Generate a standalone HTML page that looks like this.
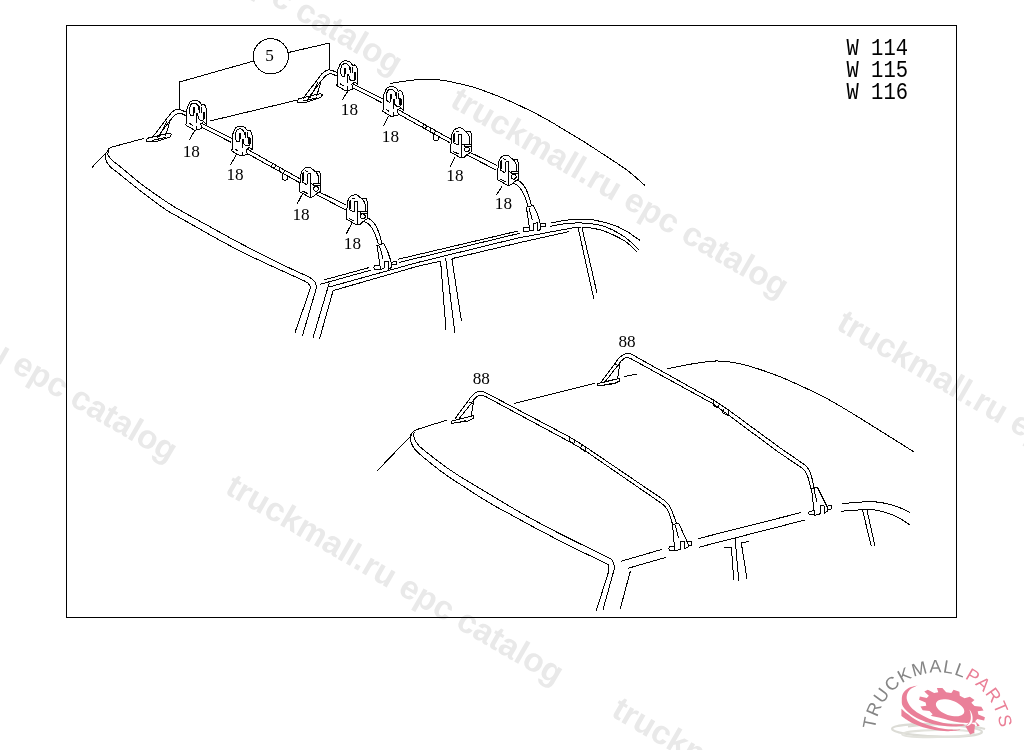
<!DOCTYPE html>
<html><head><meta charset="utf-8"><title>W 114 / W 115 / W 116 roof carrier</title>
<style>
html,body{margin:0;padding:0;background:#fff;}
body{width:1024px;height:750px;overflow:hidden;position:relative;font-family:"Liberation Sans",sans-serif;}
svg{position:absolute;left:0;top:0;display:block;will-change:transform;}
.wm text{font-family:"Liberation Sans",sans-serif;font-weight:bold;font-size:33.36px;fill:#e9e9e9;}
.dr{fill:none;stroke:#000;stroke-width:1;stroke-linecap:butt;stroke-linejoin:round;}
.n{font-family:"Liberation Serif",serif;font-size:17.2px;fill:#000;stroke:none;text-anchor:middle;}
.w{font-family:"Liberation Mono",monospace;font-size:20.5px;fill:#000;stroke:none;}
</style></head>
<body>
<svg width="1024" height="750" viewBox="0 0 1024 750">
<rect x="0" y="0" width="1024" height="750" fill="#fff"/>
<g class="wm">
<text x="62.5" y="-117.5" transform="rotate(30.2 62.5 -117.5)">truckmall.ru epc catalog</text>
<text x="448.7" y="105.4" transform="rotate(30.2 448.7 105.4)">truckmall.ru epc catalog</text>
<text x="834.9" y="328.3" transform="rotate(30.2 834.9 328.3)">truckmall.ru epc catalog</text>
<text x="-162.5" y="269.5" transform="rotate(30.2 -162.5 269.5)">truckmall.ru epc catalog</text>
<text x="223.7" y="492.4" transform="rotate(30.2 223.7 492.4)">truckmall.ru epc catalog</text>
<text x="609.9" y="715.3" transform="rotate(30.2 609.9 715.3)">truckmall.ru epc catalog</text>
</g>
<rect x="66.5" y="25.5" width="890" height="592" fill="none" stroke="#000" stroke-width="1" shape-rendering="crispEdges"/>
<g class="dr" shape-rendering="crispEdges">
<defs>
  <g id="cA">
    <path d="M-0.7,23.5 L0.1,23.2 V10.9 C0.3,9.5 0.6,8.3 1.1,7.2 L3,2.9 C3.6,1.8 4.3,1 5.1,0.5 C6.5,-0.1 8,-0.3 9.4,-0.3 C10.6,-0.1 11.7,0.3 12.6,0.8 C13.5,1.5 14.2,2.3 14.7,3.2 L15.3,4.5 L16.9,3.7 C17.7,4 18.4,4.5 19,5.1 C19.6,6 19.9,7.1 20.1,8.3 L20.6,12 V23.5 L17.4,21.1 L14.7,23.2 L15.3,28 L13.1,28.8 L10.5,29.3 L8.3,29.6 L0.1,24.8 Z" fill="#fff"/>
    <path d="M10.2,12.5 V22.1 M10.2,25.3 V29 M3.3,12 L3.8,6.7 C4.1,5.3 4.5,4.3 5.1,3.5 C6.2,2.7 7.5,2.4 8.9,2.4 C9.9,2.9 10.8,3.6 11.5,4.5 L13.1,7.2 M3.3,12 L4.6,14.7 L6.7,15.5 L7.8,14.7 L7.5,7.2 M12.3,5.9 V9 M13.7,5.6 V12 M15.3,5.9 V12 M11.5,12.5 L12.1,17.9 L13.7,19.5 H16.9 L18.5,17.3 L18.7,12 M3,22.7 L6.5,24.8"/>
    <path d="M7.8,6.7 V12.5" stroke-width="1.7"/>
    <path d="M17.4,10.9 V17.9" stroke-width="2.2"/>
  </g>
  <g id="cB">
    <path d="M0.1,24 L0.6,16 C0.9,11 1.2,8 1.7,5.8 C2.3,4 2.8,3.2 3.3,2.6 C4.2,1.4 5,0.9 5.9,0.5 C7.3,-0.1 8.5,-0.3 9.7,-0.3 C10.7,-0.1 11.5,0.4 12.3,1 L15.5,3.7 L18.2,3.7 L20.3,4 L21.4,9 V23.4 L16.6,26.6 L13.9,29.3 L10.2,29.8 Z" fill="#fff"/>
    <path d="M15.5,3.7 C16.6,4.6 17.5,5.8 18.2,6.9 C18.7,8 19,9 19,10.1 V16 M11,5.8 V29.8 M3.3,5.8 L3,14.4 L7,17 L8.3,16 V6.4 M4.3,4.8 L4.6,13.8 M5.9,3.2 L8.6,4 M8.3,6.4 H11 M2.7,23.4 L8.3,26.1 M11,15.5 L13.9,17"/>
    <path d="M13.9,16 H20.9 V18.1 H13.9 Z" fill="#fff"/>
    <circle cx="16.6" cy="21.3" r="2.4" fill="#fff"/>
  </g>
  <!-- one complete carrier bar (front position) -->
  <g id="bar18">
    <!-- left tube & foot -->
    <path d="M185.6,111.9 C182,110 179.5,109.2 177.5,109.4 C174,109.8 171,112.5 168.1,116.9 L151.9,138.1"/>
    <path d="M185.6,115.6 C183,114 181,113.1 179.4,113.1 C176.5,113.3 173.5,116 170,120.6 L156.9,138.1"/>
    <path d="M170,121.2 L165.6,135.6 M166.9,121.5 L158.8,137.5"/>
    <path d="M146.3,140 L148.1,138.1 L169.4,133.1 L171.3,134.4 L170,136.9 L155,141.9 L146.9,141.9 Z M152,140.6 L166,137.2"/>
    <!-- rod segments (double line) -->
    <path d="M201.2,123.3 L232,138.4 M201.2,126.9 L231,142.3"/>
    <path d="M246.3,148.6 L300,178.8 M245,152.2 L299.5,182.6"/>
    <path d="M272.6,163.2 L271.6,167 L274.6,168.6 L275.6,164.8 M280,167.4 L279,171.2 L283.5,173.8 L284.5,169.8 M282,173.5 V179 Q284.5,181 287,179.5 V175"/>
    <path d="M317.5,191.2 L346.3,205 M316.3,194.6 L345.6,209.8"/>
    <!-- clamps -->
    <use href="#cA" x="186.2" y="100.6"/>
    <use href="#cA" x="231.9" y="126.3"/>
    <use href="#cB" x="299.4" y="167.5"/>
    <use href="#cB" x="346.2" y="195"/>
  </g>
  <g id="bar18R">
    <!-- right tube and foot -->
    <path d="M366,217.5 C370,218.5 373,221.5 375,224.5 C378.5,230 380.5,237 382,243.5"/>
    <path d="M363,221.5 C366.5,222 369.5,224.5 371.5,227.5 C374.5,232 376.8,238 378.5,244.5"/>
    <path d="M377,245.5 L383.5,243.5 C386,247 389.5,256 391.5,264 V267.5 L388.5,269 L388,261 L384.5,261.5 L384,268.5 L380.5,269.3 Z" fill="#fff"/>
    <path d="M379.5,246 L383,258.5"/>
    <path d="M380,265.3 L374.5,265.6 Q373.2,267.5 374.5,269.5 L380.3,269.2 M391.5,262.2 L396.5,261.6 V264.2 L391.8,265"/>
  </g>
</defs>

<!-- ================= UPPER CAR ================= -->
<g>
  <!-- callout 5 -->
  <circle cx="270.8" cy="56.3" r="17.6"/>
  <path d="M253.8,61 L179.5,82 V108.8 M288.3,52.5 L329.8,43 V68.8"/>
  <!-- roof outline -->
  <path d="M143.8,138.5 L112.5,146.9 C109,148 107.5,150 106.9,151.9 L91.9,167.5"/>
  <path d="M210,121 L297.5,100"/>
  <path d="M390.2,83.4 C393.7,82.9 405.1,81.0 411.2,80.3 C417.4,79.6 421.7,79.2 426.9,79.2 C432.1,79.2 437.3,79.6 442.5,80.3 C447.7,81.0 452.9,82.2 458.1,83.4 C463.3,84.6 468.5,85.7 473.8,87.3 C479.0,88.9 484.2,90.8 489.4,92.8 C494.6,94.8 499.8,96.8 505.0,99.0 C510.2,101.2 515.5,103.7 520.6,106.1 C525.7,108.5 530.5,110.8 535.6,113.4 C540.7,116.1 546.0,119.0 551.2,122.0 C556.5,125.0 561.7,128.3 566.9,131.4 C572.1,134.5 577.3,137.6 582.5,140.8 C587.7,144.1 592.9,147.5 598.1,150.9 C603.3,154.3 608.5,157.6 613.8,161.1 C619.0,164.6 624.2,167.9 629.4,172.0 C634.6,176.1 642.4,183.3 645.0,185.6"/>
  <!-- front edge double line -->
  <path d="M108.8,150.0 C108.7,150.8 107.4,153.2 108.1,155.0 C108.8,156.8 110.8,158.9 113.0,161.0 C115.2,163.1 116.4,163.5 121.3,167.5 C126.2,171.5 134.8,179.2 142.5,185.0 C150.2,190.8 161.2,198.3 167.5,202.5 C173.8,206.7 173.8,206.6 180.0,210.2 C186.2,213.8 194.6,218.3 205.0,224.0 C215.4,229.7 228.4,237.2 242.5,244.5 C256.6,251.8 278.4,262.6 289.4,268.0 C300.4,273.4 304.5,274.6 308.8,276.9 C313.0,279.2 313.7,280.1 315.0,281.9 C316.3,283.7 316.2,286.6 316.5,287.5 L302.5,335.6"/>
  <path d="M105.6,153.8 C105.7,155.0 105.4,159.0 106.2,161.2 C107.1,163.5 108.6,165.1 110.5,167.0 C112.4,168.9 112.2,168.2 117.5,172.5 C122.8,176.8 134.2,186.1 142.5,192.5 C150.8,198.9 161.2,206.6 167.5,210.8 C173.8,215.0 173.8,214.3 180.0,217.8 C186.2,221.3 194.6,226.2 205.0,232.0 C215.4,237.8 228.4,245.3 242.5,252.3 C256.6,259.3 278.8,269.3 289.4,274.2 C300.0,279.1 302.8,279.9 306.2,281.9 C309.7,283.9 309.4,285.0 310.0,286.2 C310.6,287.5 310.0,288.9 310.0,289.4 L295,332.5"/>
  <!-- A pillar inner -->
  <path d="M329.4,282.5 L313.1,337.5 M333.1,290.6 L319.4,339.4"/>
  <!-- drip rail -->
  <path d="M323.8,280 L369.4,267.5 M320,284.4 L371.3,270"/>
  <path d="M397.5,259.4 L518,231 M398.8,262.5 L519.5,233.3"/>
  <path d="M329.4,286.9 L417.5,262.5 L517.5,238.1 L568.8,228.6 C573,227.5 577,227 581.3,227 C588,227.2 595,228.5 601.5,230.2 C610,233 618,237 625,241.1 C630,244.5 634,248.5 637.5,252.5"/>
  <path d="M333.1,290.6 L417.5,266.3 L440,261.3 M452.5,258.5 L517.5,243.1 L568.8,231.7"/>
  <path d="M550.8,223.1 C559,221.2 567,219.8 575,219.2 C581,218.9 588,219.2 593.8,220 C602,221.3 610,223.5 617.2,226.3 C625,230 633,235 639.8,240.3"/>
  <path d="M550,226.3 C559,224.3 569,223.1 578,222.8 C586,222.8 594,223.8 601.5,225.5 C610,228 618,232.5 625,237.2 C630,241 635,245.5 639,249.7"/>
  <!-- B pillar -->
  <path d="M440.6,261.3 L446,330 M445.6,257.5 L454.8,332.5 M451.9,258.8 L461.5,321.3"/>
  <!-- C pillar -->
  <path d="M578.1,227.8 L593.8,298.9 M582,227.8 L596.9,292.7"/>
  <!-- carrier bars -->
  <use href="#bar18R" transform="translate(149.4,-38.2)"/>
  <use href="#bar18" transform="translate(151,-39.5)"/>
  <use href="#bar18R"/>
  <use href="#bar18"/>
  <!-- leaders -->
  <path d="M195,130 L189.4,140 M236.3,154.4 L230.6,165 M302.5,193.8 L296.9,204.4 M351.9,223.1 L346.3,233.8"/>
  <path d="M348.5,90 L342.3,100 M388.5,116.3 L383.5,126.3 M454.8,157.5 L449.8,167.5 M502,186.3 L496.5,195"/>
</g>

<!-- ================= LOWER CAR ================= -->
<g>
<path d="M446.6,420.2 L416.9,429.5 C414.5,430.5 413,431.5 412.2,432.7 L410.9,435.8 L377,471"/>
<path d="M514.2,403.4 L594.7,383.4 M623.9,376.7 L637.2,374"/>
<path d="M666.9,368.9 C670.8,368.1 682.5,365.5 690.3,364.2 C698.1,362.9 707.2,361.5 713.8,361.1 C720.3,360.7 724.2,361.2 729.4,361.9 C734.6,362.5 739.8,363.7 745.0,365.0 C750.2,366.3 754.8,367.8 760.6,369.7 C766.4,371.6 773.4,374.1 780.0,376.7 C786.6,379.3 792.5,382.0 800.0,385.5 C807.5,389.0 816.7,393.1 825.0,397.5 C833.3,401.9 841.7,407.0 850.0,412.0 C858.3,417.0 867.5,422.8 875.0,427.5 C882.5,432.2 888.5,435.9 895.0,440.0 C901.5,444.1 910.7,449.8 913.8,451.8"/>
<path d="M414.5,431.9 C414.4,432.7 413.1,434.4 413.8,436.6 C414.4,438.8 415.3,441.8 418.4,445.2 C421.5,448.6 427.6,453.0 432.5,456.9 C437.4,460.8 442.9,465.0 448.1,468.6 C453.3,472.2 458.5,475.5 463.8,478.8 C469.0,482.0 474.2,485.0 479.4,488.1 C484.6,491.2 489.8,494.4 495.0,497.5 C500.2,500.6 503.8,502.9 510.6,506.8 C517.4,510.8 525.8,515.7 536.0,521.2 C546.2,526.7 560.2,533.9 572.0,539.8 C583.8,545.7 600.1,553.3 606.9,556.8 C613.7,560.3 611.3,559.2 612.6,561.0 C613.9,562.8 614.4,566.4 614.7,567.5 L603,609.7"/>
<path d="M411.4,433.4 C411.2,434.4 409.6,437.0 410.3,439.7 C411.0,442.4 411.6,445.6 415.3,449.8 C419.0,454.0 427.0,460.3 432.5,464.7 C438.0,469.1 442.9,472.8 448.1,476.4 C453.3,480.0 458.5,483.2 463.8,486.6 C469.0,490.0 474.2,493.4 479.4,496.7 C484.6,499.9 489.8,503.1 495.0,506.1 C500.2,509.1 503.8,510.8 510.6,514.5 C517.4,518.2 525.8,523.0 536.0,528.4 C546.2,533.8 560.5,541.2 572.0,547.0 C583.5,552.8 599.2,559.9 605.3,563.1 C611.4,566.4 607.8,565.1 608.4,566.5 C609.0,567.9 608.7,570.6 608.7,571.4 L596.3,610.5"/>
<path d="M621,561.3 L661.6,549.5 M628,568.3 L666.3,557.3 M630.3,571.4 L620.2,608.9"/>
<path d="M698.3,538.6 L801.3,512.5 M699,547.2 L805,520"/>
<path d="M842.5,503.8 C853,502 864,501.5 875,501.8 C888,503 900,507 910,512.5"/>
<path d="M841.3,511.3 C853,509.8 864,509.5 875,510 C888,512 900,517.5 910,525"/>
<path d="M735,537.5 L738.8,581.3 M723.8,547 H731.3 L733.8,580 M748.8,541.3 L741.3,543 L747,578.8"/>
<path d="M862.5,510 L871.3,546.3 M867,510 L875,546.3"/>
<path d="M454.8,419 L468.1,401 C471,396.5 473.5,394 476,392.5 C477.8,391.5 479.5,391.2 481.4,391.25 C483.3,391.4 485,392.2 486.9,393.3 L569.7,437 L585,446.5 L663.8,500 C668,503 671,507.5 672.5,512.5 L676.4,523"/>
<path d="M458.8,419 L471.3,403.4 C473,400.5 475,398.2 476.7,396.9 C478.2,395.8 479.8,395.3 481.4,395.3 C482.8,395.4 484,395.8 485.3,396.4 L568.1,441 L584,450 L661,503 C665,505.5 667.8,509.5 669.3,514 L672.5,524"/>
<path d="M473.6,401 L471.3,416 M468.8,401.9 L473.6,403.4"/>
<path d="M451,421.4 L451.7,423.4 L468,421 L473.6,418.3 V415.6 L451.7,421 Z M456,422.8 L466,420.6"/>
<path d="M569.7,437.2 L569.2,441.2 L573.8,443.8 L574.6,439.8 M581.2,445 L580.8,449 L585,451.2 L585.5,447"/>
<path d="M672.5,524.5 L678.8,523.4 L688.1,544 V547 L685,548.8 L684.2,541.7 L680.3,541.7 V549.5 L674.8,551 Z" fill="#fff"/>
<path d="M675.3,525 L678.5,538"/>
<path d="M674.6,546.6 L669.4,546.8 Q668.2,548.5 669.2,550.2 L674.8,550.3 M688.1,541.2 L691.3,541 L691.3,545.2 L688.1,545.6"/>
<path d="M601,382.2 L614.6,364 C617,360 619.5,357 623.1,354.8 C624.8,353.8 626.3,353.3 627.8,353.3 C629.5,353.4 631,354 632.5,354.8 L713.75,400.2 L727.8,409.5 L780,447.8 L805,465 C808.5,468 810.5,472.5 811.8,477.5 L814.3,488.8"/>
<path d="M605,381.8 L617.8,365.5 C619.5,362.5 621.5,360.3 623.9,358.75 C625,358 626,357.5 627,357.5 C628.5,357.6 629.8,358.1 631,358.75 L712.2,403.3 L726.3,413.4 L777.8,451.7 L802,468 C805.5,470.5 807.3,474.5 808.5,479 L811,489"/>
<path d="M619.8,363.5 L617.6,378.6 M615,364.4 L619.8,365.9"/>
<path d="M597.3,384 L598,386 L614.3,383.6 L619.9,380.9 V378.2 L598,383.6 Z M602.3,385.4 L612.3,383.2"/>
<path d="M713.8,401.5 L713.3,405.5 L718.4,408 L719.2,404.3 M723.2,408.8 L722.8,413 L728,415.4 L728.6,411"/>
<path d="M811.5,488.8 L817.5,487.5 L827.5,507.5 V511 L824.5,513 L824,505.5 L820.2,505.8 V513.8 L814.6,515.3 Z" fill="#fff"/>
<path d="M814,489.5 L817.2,502.5"/>
<path d="M814.5,510.8 L809.4,511.2 Q808.2,512.9 809.2,514.6 L814.7,514.7 M827.5,505.2 L831,505 L831,509.3 L827.6,509.8"/>
</g>


</g>
<g>
<text class="n" x="191.3" y="157.2">18</text>
<text class="n" x="235.1" y="180.3">18</text>
<text class="n" x="301.1" y="220.4">18</text>
<text class="n" x="352.4" y="249.2">18</text>
<text class="n" x="349.4" y="115.2">18</text>
<text class="n" x="390.4" y="142.2">18</text>
<text class="n" x="454.9" y="180.9">18</text>
<text class="n" x="503.4" y="209.2">18</text>
<text class="n" x="481.3" y="384.2">88</text>
<text class="n" x="627" y="346.5">88</text>
<text class="n" x="269.5" y="61.4">5</text>

</g>
<g transform="translate(846.5 0) scale(1 1.18)">
<text class="w" x="0" y="46.44">W 114</text>
<text class="w" x="0" y="65.08">W 115</text>
<text class="w" x="0" y="83.90">W 116</text>
</g>

<g id="logo">
  <defs><path id="arc" d="M875,729.5 A62.8,62.8 0 0 1 1000.1,741"/></defs>
  <path d="M978.37,714.41 L984.93,717.27 L984.13,720.43 L977.20,719.01 L975.16,721.31 L979.72,725.41 L976.12,727.23 L969.93,723.94 L965.75,724.77 L967.08,729.02 L961.65,729.00 L957.85,724.74 L952.65,723.88 L950.40,727.13 L944.59,725.28 L944.20,721.19 L939.38,718.86 L934.14,720.25 L929.52,717.07 L932.65,714.24 L929.49,711.07 L922.68,710.22 L920.47,706.56 L926.28,705.75 L925.63,702.59 L919.07,699.73 L919.87,696.57 L926.80,697.99 L928.84,695.69 L924.28,691.59 L927.88,689.77 L934.07,693.06 L938.25,692.23 L936.92,687.98 L942.35,688.00 L946.15,692.26 L951.35,693.12 L953.60,689.87 L959.41,691.72 L959.80,695.81 L964.62,698.14 L969.86,696.75 L974.48,699.93 L971.35,702.76 L974.51,705.93 L981.32,706.78 L983.53,710.44 L977.72,711.25 Z M964.09,712.62 L964.30,711.45 L964.16,710.19 L963.68,708.87 L962.86,707.53 L961.72,706.19 L960.30,704.90 L958.63,703.67 L956.75,702.54 L954.70,701.55 L952.54,700.71 L950.32,700.04 L948.10,699.57 L945.92,699.29 L943.85,699.23 L941.93,699.38 L940.21,699.73 L938.74,700.29 L937.55,701.03 L936.66,701.93 L936.11,702.98 L935.90,704.15 L936.04,705.41 L936.52,706.73 L937.34,708.07 L938.48,709.41 L939.90,710.70 L941.57,711.93 L943.45,713.06 L945.50,714.05 L947.66,714.89 L949.88,715.56 L952.10,716.03 L954.28,716.31 L956.35,716.37 L958.27,716.22 L959.99,715.87 L961.46,715.31 L962.65,714.57 L963.54,713.67 Z" fill="#ea8099" fill-rule="evenodd"/>
  <path d="M926.0,682.0 C924.3,683.3 918.1,687.2 916.0,690.0 C913.9,692.8 913.4,696.3 913.5,699.0 C913.6,701.7 915.0,704.0 916.5,706.0 C918.0,708.0 920.5,709.3 922.6,710.8 C924.8,712.3 926.7,714.1 929.4,715.2 C932.1,716.3 935.4,716.7 939.0,717.6 C942.6,718.5 947.0,719.9 951.0,720.8 C955.0,721.7 958.8,722.5 963.0,722.8 C967.2,723.1 973.8,722.6 976.0,722.6 L982,742 L888,742 L888,680 Z" fill="#fff"/>
  <ellipse cx="937" cy="730.3" rx="45" ry="6.2" fill="none" stroke="#dcdcd6" stroke-width="2.3" transform="rotate(2 937 730.3)"/>
  <ellipse cx="938" cy="733.6" rx="36" ry="3.6" fill="none" stroke="#e2e2dc" stroke-width="1.8" transform="rotate(-1 938 733.6)"/>
  <path d="M908,726.5 C925,724 945,723.5 966,725.5 C975,726.5 981,727.8 985,729" fill="none" stroke="#dcdcd6" stroke-width="2.2"/>
  <path d="M918.2,685.2 C916.6,685.7 911.1,686.6 908.6,688.0 C906.1,689.4 904.1,691.6 903.0,693.6 C901.9,695.6 901.8,697.9 901.8,700.0 C901.8,702.1 901.5,704.0 903.0,706.4 C904.5,708.8 907.7,712.0 911.0,714.4 C914.3,716.8 919.0,719.1 923.0,720.8 C927.0,722.5 930.3,723.5 935.0,724.4 C939.7,725.3 945.9,726.2 951.0,726.4 C956.1,726.6 963.0,725.6 965.4,725.4 L963.8,724.4 C961.7,724.3 955.0,724.4 951.0,724.0 C947.0,723.6 943.5,722.9 939.8,722.0 C936.1,721.1 932.1,719.8 928.6,718.4 C925.1,717.0 921.9,715.5 919.0,713.6 C916.1,711.7 913.0,709.5 911.0,707.2 C909.0,704.9 907.6,702.3 907.0,700.0 C906.4,697.7 906.7,695.5 907.4,693.6 C908.1,691.7 909.2,690.2 911.0,688.8 C912.8,687.4 917.0,685.8 918.2,685.2 Z" fill="#ea8099"/>
  <path d="M901.4,708.8 C902.3,709.6 904.7,711.9 907.0,713.6 C909.3,715.3 911.7,717.3 915.0,719.2 C918.3,721.1 923.0,723.3 927.0,724.8 C931.0,726.3 935.0,727.2 939.0,728.0 C943.0,728.8 947.4,729.4 951.0,729.6 C954.6,729.8 959.0,729.4 960.6,729.4 L959.0,730.2 C957.0,730.4 951.0,731.2 947.0,731.2 C943.0,731.2 939.0,730.7 935.0,730.0 C931.0,729.3 927.0,728.5 923.0,727.2 C919.0,725.9 914.6,724.3 911.0,722.4 C907.4,720.5 903.0,717.1 901.4,716.0 Z" fill="#ea8099"/>
  <path d="M965.4,726.2 L970.2,734.4 L974.2,732.8 L975,724.8 L969,722.5 Z" fill="#ea8099"/>
  <path d="M965.4,726.4 C969.5,725.8 972,724 972.6,720 C973,716 971.8,712.5 969.4,709.6 C970.6,713 971.2,716 970.8,719 C970.2,722.5 968.5,724.6 965.4,726.4 Z" fill="#fff"/>
  <text font-family="Liberation Sans, sans-serif" font-size="18" letter-spacing="1.25"><textPath href="#arc" startOffset="0"><tspan fill="#858585">TRUCKMALL</tspan><tspan fill="#ea7f96">PARTS</tspan></textPath></text>
</g>

</svg>
</body></html>
